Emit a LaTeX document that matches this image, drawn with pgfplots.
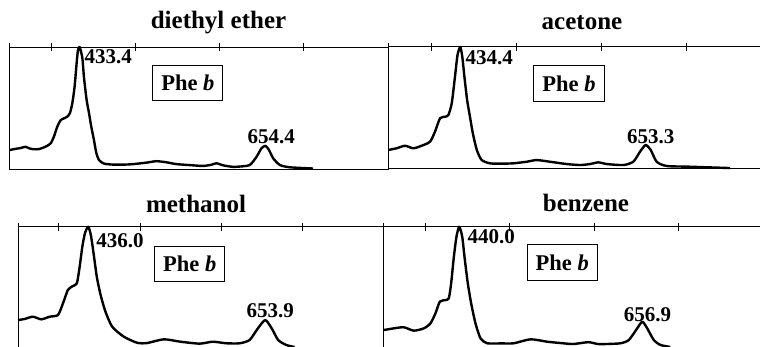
\documentclass[border=0pt]{standalone}
\usepackage{fontspec}
\setmainfont{Liberation Serif}
\usepackage{pgfplots}
\pgfplotsset{compat=1.18}

\pgfplotstableread{
x y
350.4 0.156
357.0 0.165
363.2 0.172
369.0 0.182
374.0 0.168
379.0 0.162
385.0 0.163
392.9 0.183
398.9 0.210
402.8 0.265
406.8 0.347
410.8 0.400
414.7 0.415
418.7 0.429
421.9 0.459
424.7 0.540
427.4 0.675
429.8 0.866
431.4 0.975
433.4 1.000
436.6 0.910
438.5 0.754
441.7 0.566
444.5 0.459
447.3 0.344
450.4 0.238
453.2 0.131
456.4 0.074
462.0 0.045
473.0 0.036
487.0 0.036
497.0 0.040
512.7 0.052
524.6 0.064
536.5 0.055
548.5 0.040
564.3 0.032
580.2 0.025
590.0 0.035
596.1 0.047
604.0 0.030
615.0 0.018
623.8 0.020
635.7 0.033
643.7 0.100
649.6 0.170
654.4 0.190
658.5 0.156
663.5 0.088
671.4 0.033
683.3 0.014
711.0 0.004
}\diethyl

\pgfplotstableread{
x y
349.8 0.151
359.6 0.165
369.4 0.186
379.2 0.165
389.0 0.186
398.8 0.219
404.7 0.302
410.6 0.412
416.5 0.425
420.4 0.439
424.4 0.536
428.2 0.755
431.2 0.934
434.4 1.000
436.8 0.920
439.3 0.755
442.5 0.563
445.5 0.439
449.2 0.289
453.9 0.151
459.6 0.068
469.4 0.041
482.0 0.038
496.8 0.041
512.5 0.054
524.3 0.068
540.0 0.054
559.6 0.035
575.3 0.027
587.0 0.035
596.9 0.049
606.7 0.035
626.3 0.027
638.0 0.054
645.9 0.137
652.5 0.192
658.5 0.151
665.5 0.054
677.3 0.019
704.7 0.013
751.8 0.002
}\acetone

\pgfplotstableread{
x y
349.6 0.224
357.8 0.233
368.0 0.252
378.3 0.230
388.6 0.252
398.8 0.266
405.0 0.363
411.0 0.474
417.2 0.507
422.1 0.530
425.5 0.667
428.8 0.834
432.0 0.945
436.0 1.000
439.3 0.930
442.6 0.780
446.6 0.584
451.3 0.432
457.3 0.293
465.5 0.169
479.8 0.086
496.3 0.035
508.6 0.033
529.0 0.064
549.5 0.044
573.1 0.028
589.4 0.044
605.9 0.031
622.3 0.031
634.6 0.058
644.8 0.155
653.9 0.224
661.8 0.155
669.8 0.058
679.7 0.017
690.0 0.000
}\methanol

\pgfplotstableread{
x y
350.6 0.141
362.4 0.155
374.3 0.164
386.1 0.136
398.0 0.155
405.9 0.197
411.8 0.280
417.0 0.377
423.7 0.390
427.6 0.405
430.4 0.530
433.6 0.750
436.7 0.917
440.0 1.000
443.5 0.917
446.2 0.750
450.1 0.530
454.1 0.363
459.2 0.197
465.2 0.072
473.1 0.031
490.0 0.030
504.6 0.031
524.4 0.064
544.2 0.044
560.0 0.033
575.0 0.025
593.0 0.040
604.0 0.025
615.3 0.025
631.0 0.031
640.9 0.058
650.8 0.155
656.9 0.210
662.7 0.155
670.5 0.058
678.4 0.017
690.0 0.000
}\benzene

\pgfplotsset{
  spec/.style={
    scale only axis, anchor=south west,
    xmin=350, xmax=800, ymin=0, ymax=1,
    xtick={350,400,500,600,700,800},
    xtick pos=right, tick align=center, major tick length=8pt,
    xticklabel=\empty, ytick=\empty,
    clip=false,
    axis line style={line width=1pt},
    every tick/.style={black, line width=1pt},
  },
  curve/.style={black, line width=2.4pt, smooth, tension=0.4, no markers, line join=round},
}
\tikzset{
  lbl/.style={inner sep=0pt, font=\fontsize{21}{24}\selectfont\bfseries},
  phebox/.style={draw, line width=0.9pt, inner xsep=8.5pt, inner ysep=10pt, font=\fontsize{22.5}{27}\selectfont\bfseries},
}

\begin{document}
\begin{tikzpicture}[x=1pt,y=1pt]
\useasboundingbox (0pt,0pt) rectangle (760pt,346pt);
\clip (0pt,0pt) rectangle (760pt,346pt);

% top-left: diethyl ether
\begin{axis}[spec, at={(9.5pt,177pt)}, width=378.5pt, height=122pt]
\addplot[curve] table {\diethyl};
\node[lbl] at (axis cs:467.3,0.92) {433.4};
\node[lbl] at (axis cs:661.2,0.262) {654.4};
\node[phebox] at (axis cs:562,0.705) {Phe \textit{b}};
\end{axis}

% top-right: acetone
\begin{axis}[spec, at={(388.5pt,177.7pt)}, width=382.5pt, height=121.3pt]
\addplot[curve] table {\acetone};
\node[lbl] at (axis cs:468.6,0.913) {434.4};
\node[lbl] at (axis cs:658.4,0.258) {653.3};
\node[phebox] at (axis cs:562.3,0.70) {Phe \textit{b}};
\end{axis}

% bottom-left: methanol
\begin{axis}[spec, at={(18.3pt,-1pt)}, width=365.7pt, height=120.3pt]
\addplot[curve] table {\methanol};
\node[lbl] at (axis cs:475,0.881) {436.0};
\node[lbl] at (axis cs:660,0.30) {653.9};
\node[phebox] at (axis cs:561,0.69) {Phe \textit{b}};
\end{axis}

% bottom-right: benzene
\begin{axis}[spec, at={(383.3pt,-1pt)}, width=379.8pt, height=120.3pt]
\addplot[curve] table {\benzene};
\node[lbl] at (axis cs:478,0.917) {440.0};
\node[lbl] at (axis cs:663,0.266) {656.9};
\node[phebox] at (axis cs:562,0.70) {Phe \textit{b}};
\end{axis}

\begin{scope}[every node/.style={anchor=base, inner sep=0pt, font=\fontsize{25}{30}\selectfont\bfseries}]
\node at (218.5pt,317.7pt) {diethyl ether};
\node at (582pt,316.7pt) {acetone};
\node at (196pt,133.3pt) {methanol};
\node at (586pt,134.3pt) {benzene};
\end{scope}
\end{tikzpicture}
\end{document}
